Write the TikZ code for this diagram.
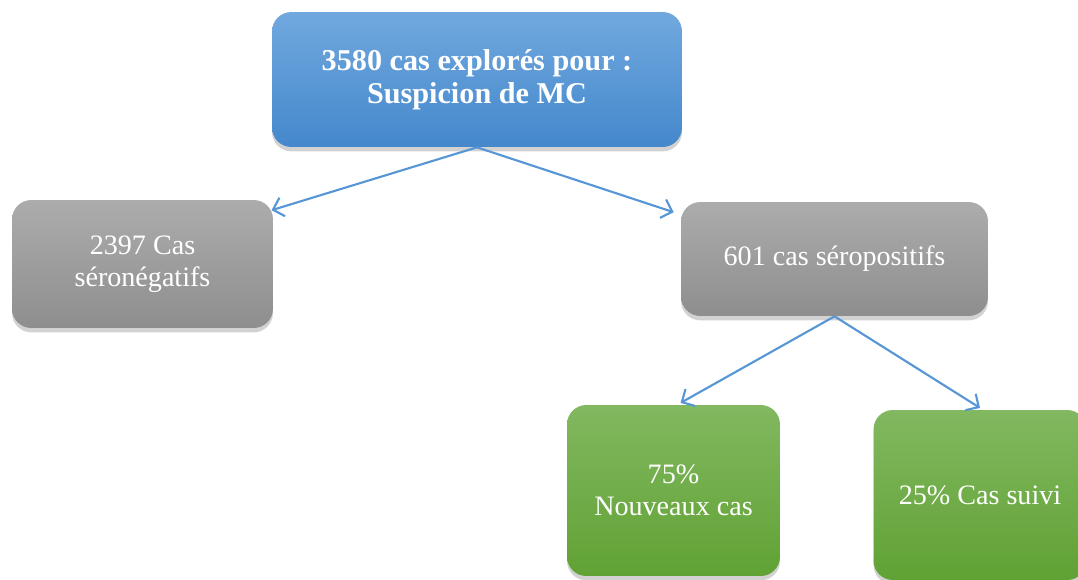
\documentclass[tikz,border=0pt]{standalone}
\usepackage{fontspec}
\setmainfont{Liberation Serif}
\usetikzlibrary{arrows.meta,shadows}

\definecolor{myblueA}{RGB}{113,168,222}
\definecolor{myblueB}{RGB}{68,136,204}
\definecolor{mygreyA}{RGB}{172,172,172}
\definecolor{mygreyB}{RGB}{142,142,142}
\definecolor{mygreenA}{RGB}{130,184,96}
\definecolor{mygreenB}{RGB}{96,162,52}
\definecolor{myarrow}{RGB}{86,150,214}

\tikzset{
  box/.style={rounded corners=11pt, text=white, align=center, inner sep=2pt,
    font=\fontsize{16}{18.5}\selectfont,
    drop shadow={shadow xshift=0pt, shadow yshift=-2.5pt, opacity=0.35}},
  bluebox/.style={box, top color=myblueA, bottom color=myblueB,
    font=\bfseries\fontsize{17.2}{18.5}\selectfont},
  greybox/.style={box, top color=mygreyA, bottom color=mygreyB},
  greenbox/.style={box, top color=mygreenA, bottom color=mygreenB},
  link/.style={myarrow, line width=1.2pt, -{Straight Barb[length=5.5pt,width=11pt]}}
}

\begin{document}
\begin{tikzpicture}[x=0.02cm,y=-0.02cm]
  \useasboundingbox[fill=white] (0,0) rectangle (1078,579);
  \node[bluebox, minimum width=8.2cm, minimum height=2.7cm]
    (explores) at (477,79.5) {3580 cas explorés pour :\\Suspicion de MC};
  \node[greybox, minimum width=5.22cm, minimum height=2.56cm]
    (negatifs) at (142.5,264) {2397 Cas\\séronégatifs};
  \node[greybox, minimum width=6.14cm, minimum height=2.28cm]
    (positifs) at (834.5,259) {601 cas séropositifs};
  \node[greenbox, minimum width=4.26cm, minimum height=3.42cm]
    (nouveaux) at (673.5,490.5) {75\%\\Nouveaux cas};
  \node[greenbox, minimum width=4.26cm, minimum height=3.4cm]
    (suivi) at (980,495) {25\% Cas suivi};
  % liens
  \draw[link] (explores.south) -- ([xshift=-1pt,yshift=-6pt]negatifs.north east);
  \draw[link] (explores.south) -- ([xshift=-4pt,yshift=-6pt]positifs.north west);
  \draw[link] (positifs.south) -- ([xshift=4pt,yshift=1pt]nouveaux.north);
  \draw[link] (positifs.south) -- ([yshift=1pt]suivi.north);
\end{tikzpicture}
\end{document}
